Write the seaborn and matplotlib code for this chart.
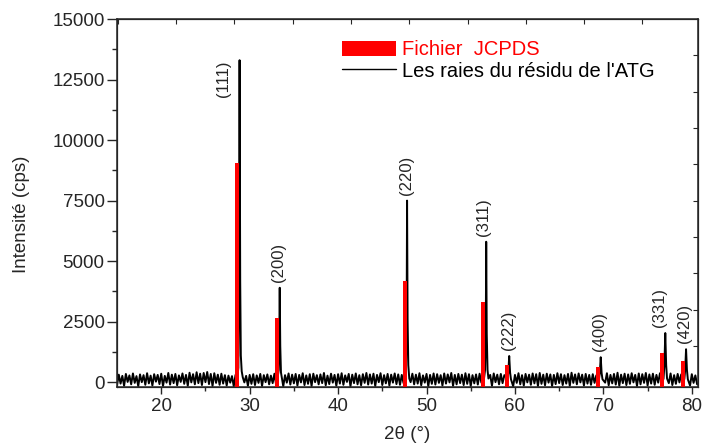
import numpy as np
import pandas as pd
import matplotlib
matplotlib.use("Agg")
import matplotlib.pyplot as plt
from matplotlib.patches import Patch
from matplotlib.lines import Line2D
import seaborn as sns

# --- data ------------------------------------------------------------------
# JCPDS reference lines (red bars)
jcpds_2theta = [28.58, 33.08, 47.52, 56.42, 59.05, 69.42, 76.65, 79.02]
jcpds_counts = [9050, 2650, 4170, 3300, 700, 620, 1200, 870]

# measured peaks (black), hkl labels
hkl_labels = ["111", "200", "220", "311", "222", "400", "331", "420"]
peak_2theta = [28.86, 33.40, 47.80, 56.75, 59.35, 69.70, 77.00, 79.35]
peak_top = [13300, 3900, 7500, 5800, 1080, 1030, 2030, 1360]

# points of the black peak profiles
profile_2theta = [
    28.60, 28.72, 28.80, 28.86, 28.93, 29.00, 29.10, 29.22,
    33.15, 33.28, 33.35, 33.40, 33.46, 33.54, 33.65,
    47.55, 47.68, 47.75, 47.80, 47.86, 47.94, 48.05,
    56.50, 56.62, 56.70, 56.75, 56.81, 56.90, 57.00,
    59.15, 59.25, 59.35, 59.45, 59.55,
    69.50, 69.60, 69.70, 69.80, 69.90,
    76.80, 76.90, 77.00, 77.10, 77.20,
    79.15, 79.25, 79.35, 79.45, 79.55,
]
profile_counts = [
    150, 600, 4500, 13300, 4200, 1100, 450, 200,
    150, 500, 1800, 3900, 1500, 400, 150,
    150, 600, 2500, 7500, 2600, 700, 150,
    150, 500, 2000, 5800, 2000, 500, 150,
    120, 400, 1080, 400, 120,
    120, 400, 1030, 380, 120,
    150, 700, 2030, 700, 150,
    120, 500, 1360, 500, 120,
]

# background of the scan, one value every 0.2 deg from 15.0 to 80.6
background_counts = [
    -120, 310, -60, 260, -150, 340, 10, 280, -90, 360, -30, 250, -170, 320, 0, 290, -110, 370, -50, 270,
    -140, 330, 20, 300, -80, 350, -160, 260, -20, 380, -100, 310, -40, 340, -130, 280, 10, 360, -70, 300,
    -150, 390, -10, 330, -90, 410, -40, 350, -120, 380, 0, 420, -80, 340, -160, 370, -30, 310, -110, 350,
    -60, 290, -140, 270, -20, 250, -170, 300, -50, 280, -100, 320, -10, 260, -150, 300, -70, 330, -120, 280,
    -30, 340, -160, 290, 0, 320, -90, 270, -40, 350, -130, 300, -60, 330, -170, 290, -20, 360, -100, 310,
    -50, 340, -140, 300, -10, 370, -120, 280, -70, 330, -160, 350, 0, 290, -90, 320, -40, 380, -130, 270,
    -80, 350, -20, 300, -150, 330, -60, 370, -110, 280, 10, 340, -170, 310, -40, 360, -90, 290, -130, 330,
    -30, 380, -100, 320, -60, 350, -160, 300, 0, 370, -120, 290, -50, 340, -140, 310, -20, 360, -80, 320,
    -110, 300, -40, 330, -150, 290, 0, 350, -90, 310, -60, 370, -130, 280, -20, 340, -170, 300, -70, 360,
    -100, 330, -30, 290, -140, 360, -60, 320, -10, 380, -150, 300, -90, 340, -40, 310, -120, 370, -70, 330,
    -160, 290, -50, 320, -100, 350, -20, 280, -130, 330, -70, 300, -150, 360, 0, 310, -90, 340, -40, 290,
    -120, 320, -60, 350, -170, 300, -30, 370, -90, 290, -140, 340, -10, 310, -110, 360, -50, 330, -160, 380,
    -70, 310, -130, 350, -20, 320, -160, 300, -80, 370, -40, 330, -120, 290, -60, 340, -150, 390, -30, 320,
    -90, 360, -10, 310, -140, 340, -60, 300, -110, 330, -30, 280, -170, 350, -80, 320, -20, 370, -130, 300,
    -50, 340, -100, 390, -150, 310, -40, 350, -120, 320, -70, 370, -10, 300, -160, 360, -90, 330, -30, 380,
    -140, 320, -60, 350, -110, 300, -20, 370, -90, 330, -150, 310, -40, 360, -120, 290, -70, 340, -10, 320,
    -100, 350, -60, 300, -140, 330, -30, 280, -90,
]
background_2theta = np.round(np.linspace(15.0, 80.6, len(background_counts)), 2)

# --- build the scan -------------------------------------------------------
bg = pd.DataFrame({"two_theta": background_2theta, "counts": background_counts})
near_peak = np.zeros(len(bg), dtype=bool)
for c in peak_2theta:
    near_peak |= (bg["two_theta"] - c).abs() < 0.36
bg = bg[~near_peak]
pk = pd.DataFrame({"two_theta": profile_2theta, "counts": profile_counts})
scan = pd.concat([bg, pk]).sort_values("two_theta").reset_index(drop=True)

# --- plot -------------------------------------------------------------------
sns.set_style("ticks")
plt.rcParams["font.family"] = ["Liberation Sans", "DejaVu Sans"]
plt.rcParams["font.size"] = 13

fig = plt.figure(figsize=(7.02, 4.43), dpi=100)
ax = fig.add_axes([0.1667, 0.1264, 0.8276, 0.8306])

ymin, ymax = -200, 15000
sns.lineplot(data=scan, x="two_theta", y="counts", color="black", lw=1.4,
             estimator=None, sort=False, ax=ax, legend=False)
ax.bar(jcpds_2theta, np.array(jcpds_counts) - ymin, bottom=ymin, width=0.45,
       color="red", edgecolor="none", zorder=3)

ax.set_xlim(15, 80.7)
ax.set_ylim(ymin, ymax)
ax.set_xticks(range(20, 81, 10))
ax.set_xticks(range(25, 81, 10), minor=True)
ax.set_yticks(range(0, 15001, 2500))
ax.set_yticks(range(1250, 15000, 2500), minor=True)
ax.tick_params(axis="y", which="major", length=7, width=1, direction="out", labelsize=13.5, pad=2)
ax.tick_params(axis="y", which="minor", length=3.5, width=1, direction="out")
ax.tick_params(axis="x", which="major", length=5, width=1, direction="out", labelsize=13.5, pad=3)
ax.tick_params(axis="x", which="minor", length=3, width=1, direction="out")
for s in ax.spines.values():
    s.set_linewidth(1.1)
    s.set_visible(True)

# inward ticks on the top and right frame
top = ax.twiny()
top.set_xlim(ax.get_xlim())
top.set_xticks(np.arange(15.1, 80.7, 6.59))
top.tick_params(axis="x", direction="in", length=3.5, labeltop=False)
right = ax.twinx()
right.set_ylim(ax.get_ylim())
right.set_yticks(range(1500, 15000, 1500))
right.tick_params(axis="y", direction="in", length=3.5, labelright=False)

ax.set_xlabel("2θ (°)", fontsize=13.5, labelpad=8)
ax.set_ylabel("Intensité (cps)", fontsize=13.5)
ax.yaxis.set_label_coords(-0.149, 0.47)

# peak labels
shift = {"111": -1.87, "331": -0.68, "311": -0.3}
for h, x, y in zip(hkl_labels, peak_2theta, peak_top):
    if h == "111":
        ax.text(x + shift[h], 11800, f"({h})", rotation=90, ha="center", va="bottom", fontsize=12)
    else:
        ax.text(x + shift.get(h, -0.12), y + 250, f"({h})", rotation=90,
                ha="center", va="bottom", fontsize=12)

handles = [Patch(facecolor="red", edgecolor="none"), Line2D([], [], color="black", lw=1)]
ax.legend(handles, ["Fichier  JCPDS", "Les raies du résidu de l'ATG"],
          loc="upper left", bbox_to_anchor=(0.387, 0.942), frameon=False,
          fontsize=14.5, handlelength=2.7, handleheight=0.8, handletextpad=0.3,
          labelspacing=0.12, borderpad=0, borderaxespad=0,
          labelcolor=["red", "black"])

fig.savefig("out.png", dpi=100)
